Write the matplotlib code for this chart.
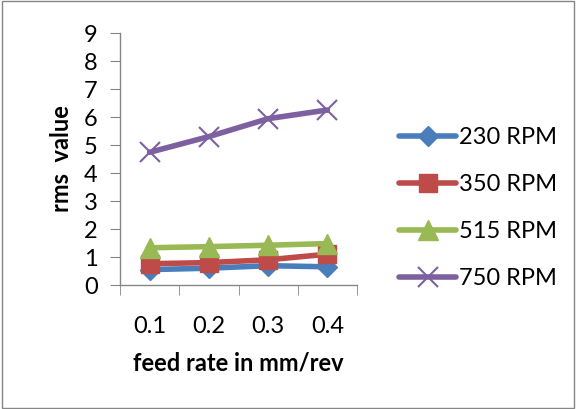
import matplotlib
matplotlib.use("Agg")
import matplotlib.pyplot as plt
import numpy as np

plt.rcParams['font.family'] = ['Lato', 'DejaVu Sans']

categories = ["0.1", "0.2", "0.3", "0.4"]
rpm230 = [0.55, 0.60, 0.69, 0.65]
rpm350 = [0.76, 0.80, 0.90, 1.10]
rpm515 = [1.33, 1.37, 1.42, 1.48]
rpm750 = [4.74, 5.30, 5.94, 6.25]
labels = ["230 RPM", "350 RPM", "515 RPM", "750 RPM"]
colors = ["#4A7EBB", "#BE4B48", "#98B954", "#7D60A0"]
markers = ["D", "s", "^", "x"]

fig = plt.figure(figsize=(5.76, 4.09), dpi=100)
ax = fig.add_axes([120/576, 1-285/409, 237/576, 252/409])

x = np.arange(len(categories))
series = [rpm230, rpm350, rpm515, rpm750]
sizes = {"D": 10, "s": 13, "^": 14}
for s, lab, c, m in zip(series, labels, colors, markers):
    if m == "x":
        ax.plot(x, s, color=c, lw=4, marker=m, ms=14, mew=1.5, label=lab, solid_capstyle='round')
    else:
        ax.plot(x, s, color=c, lw=4, marker=m, ms=sizes[m], mec=c, label=lab, solid_capstyle='round')

ax.set_xlim(-0.5, 3.5)
ax.set_ylim(0, 9)
ax.set_yticks(range(10))
ax.set_xticks(x)
ax.set_xticklabels(categories)
ax.set_xticks(np.arange(-0.5, 4, 1), minor=True)
ax.tick_params(axis='x', which='major', length=0, pad=22, labelsize=17)
ax.tick_params(axis='x', which='minor', length=7, color='#868686', direction='out')
ax.tick_params(axis='y', length=7, color='#868686', labelsize=17, pad=9)
for sp in ['top', 'right']:
    ax.spines[sp].set_visible(False)
for sp in ['left', 'bottom']:
    ax.spines[sp].set_color('#868686')
    ax.spines[sp].set_linewidth(1)

ax.set_ylabel("rms  value", fontsize=17, fontweight='bold', labelpad=8)
ax.set_xlabel("feed rate in mm/rev", fontsize=17, fontweight='bold', labelpad=11)

leg = fig.legend(loc='upper left', bbox_to_anchor=(378/576, 1-106/409), frameon=False,
                 fontsize=17, labelspacing=1.1, handlelength=2.4, handletextpad=0.15)

fig.patches.append(plt.Rectangle((0.003, 0.003), 0.994, 0.994, transform=fig.transFigure,
                                 fill=False, edgecolor='#868686', lw=1))
fig.savefig("out.png", dpi=100, facecolor='white')
